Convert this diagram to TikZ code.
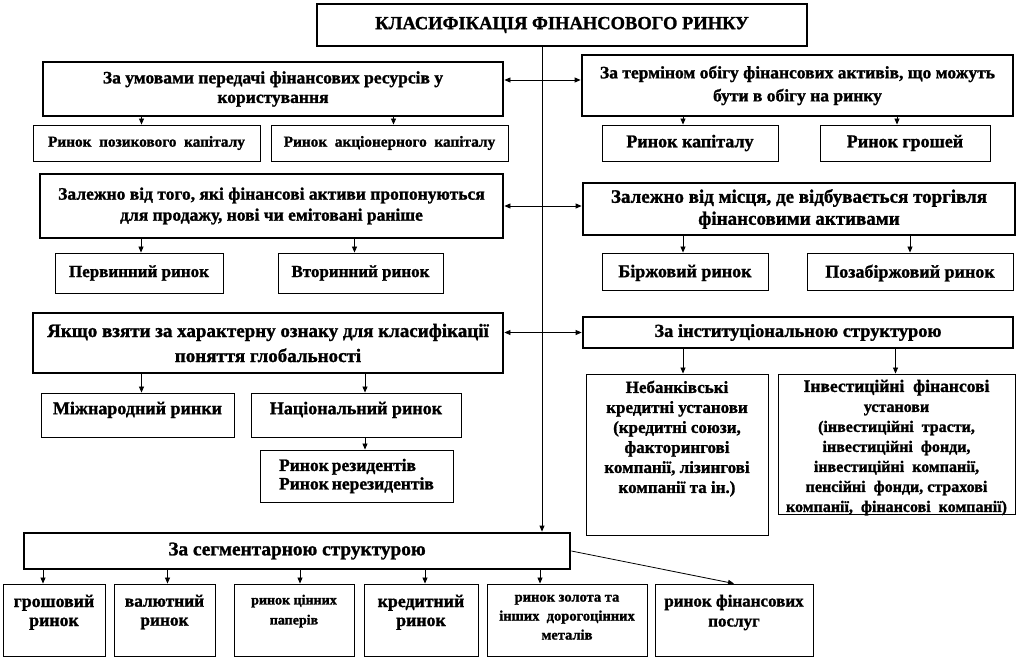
\documentclass[tikz,border=0pt]{standalone}
\usepackage{fontspec}
\setmainfont{Liberation Serif}[BoldFeatures={FakeBold=1.3}]
\usetikzlibrary{arrows.meta}
\newcommand\fsz[2]{\bfseries\fontsize{#1}{#2}\selectfont}
\begin{document}
\begin{tikzpicture}[x=1pt,y=-1pt,
  thickbox/.style={draw,line width=2.8pt,fill=white,align=center,inner sep=0pt,font=\fsz{17.5}{21}},
  thinbox/.style={draw,line width=0.9pt,fill=white,align=center,inner sep=0pt,font=\fsz{18}{20}},
  toplab/.style={anchor=north,inner sep=0pt,align=center,font=\fsz{18}{20}},
  arr/.style={line width=0.8pt,-{Triangle[length=6pt,width=5pt]}},
  darr/.style={line width=0.8pt,{Triangle[length=6pt,width=5pt]}-{Triangle[length=6pt,width=5pt]}}]
\useasboundingbox (0,0) rectangle (1027,658);
% title
\node[thickbox,minimum width=490pt,minimum height=42pt,font=\fsz{18.5}{20}] (title) at (562,25) {КЛАСИФІКАЦІЯ ФІНАНСОВОГО РИНКУ};
% row 1
\node[thickbox,minimum width=460pt,minimum height=54pt,font=\fsz{17.5}{19.5}] (h1) at (273,89) {За умовами передачі фінансових ресурсів у\\користування};
\node[thickbox,minimum width=431pt,minimum height=61pt,font=\fsz{17.5}{23}] (r1) at (797.5,85.5) {За терміном обігу фінансових активів, що можуть\\бути в обігу на ринку};
\node[thinbox,minimum width=227pt,minimum height=36pt,font=\fsz{15.3}{18}] (s1a) at (146.5,143) {Ринок\ \ позикового\ \ капіталу};
\node[thinbox,minimum width=237pt,minimum height=36pt,font=\fsz{15.3}{18}] (s1b) at (389.5,143) {Ринок\ \ акціонерного\ \ капіталу};
\node[thinbox,minimum width=176pt,minimum height=36pt] (s1c) at (690,143) {Ринок капіталу};
\node[thinbox,minimum width=170pt,minimum height=36pt] (s1d) at (905,143) {Ринок грошей};
% row 2
\node[thickbox,minimum width=463pt,minimum height=64pt,font=\fsz{17.5}{21}] (h2) at (271.5,206) {Залежно від того, які фінансові активи пропонуються\\для продажу,\ нові чи емітовані раніше};
\node[thickbox,minimum width=432pt,minimum height=52pt,font=\fsz{19}{22}] (r2) at (799,209) {Залежно від місця, де відбувається торгівля\\фінансовими активами};
\node[thinbox,minimum width=168pt,minimum height=40pt,font=\fsz{17}{20}] (s2a) at (139,273) {Первинний ринок};
\node[thinbox,minimum width=165pt,minimum height=40pt,font=\fsz{17}{20}] (s2b) at (360.5,273) {Вторинний ринок};
\node[thinbox,minimum width=166pt,minimum height=37pt,label={[toplab,yshift=-12pt]north:Біржовий ринок}] (s2c) at (685,271.5) {};
\node[thinbox,minimum width=206pt,minimum height=37pt,label={[toplab,yshift=-12pt]north:Позабіржовий ринок}] (s2d) at (910,271.5) {};
% row 3
\node[thickbox,minimum width=470pt,minimum height=60pt,font=\fsz{19}{25}] (h3) at (268,343) {Якщо взяти за характерну ознаку для класифікації\\поняття глобальності};
\node[thickbox,minimum width=430pt,minimum height=31pt,font=\fsz{18.4}{20}] (r3) at (798,332.5) {За інституціональною структурою};
\node[thinbox,minimum width=193pt,minimum height=44pt,label={[toplab,yshift=-9pt]north:Міжнародний ринки}] (s3a) at (137.5,415) {};
\node[thinbox,minimum width=210pt,minimum height=44pt,label={[toplab,yshift=-9pt]north:Національний ринок}] (s3b) at (356,415) {};
\node[thinbox,minimum width=193pt,minimum height=52pt,align=left,font=\fsz{17.5}{18.5}] (s3c) at (356.5,476) {Ринок\hspace{3pt}резидентів\\Ринок\hspace{3pt}нерезидентів};
\node[thinbox,minimum width=182pt,minimum height=161pt,label={[toplab,yshift=-7pt,font=\fsz{17}{20}]north:{Небанківські\\кредитні установи\\(кредитні союзи,\\факторингові\\компанії, лізингові\\компанії та ін.)}}] (s3d) at (677,454.5) {};
\node[thinbox,minimum width=237pt,minimum height=140pt,label={[toplab,yshift=-6pt,font=\fsz{16}{20}]north:{\fsz{17.5}{20}Інвестиційні\ \ фінансові\\установи\\(інвестиційні\ \ трасти,\\інвестиційні\ \ фонди,\\інвестиційні\ \ компанії,\\пенсійні\ \ фонди,\ страхові\\компанії,\ \ фінансові\ \ компанії)}}] (s3e) at (896.5,444) {};
% segment
\node[thickbox,minimum width=546pt,minimum height=36pt,font=\fsz{19.3}{21}] (seg) at (297,551) {За сегментарною структурою};
\node[thinbox,minimum width=102pt,minimum height=72pt,label={[toplab,yshift=-11pt,font=\fsz{17.8}{19}]north:{грошовий\\ринок}}] (b1) at (54,620) {};
\node[thinbox,minimum width=101pt,minimum height=72pt,label={[toplab,yshift=-11pt,font=\fsz{17.3}{19}]north:{валютний\\ринок}}] (b2) at (164.5,620) {};
\node[thinbox,minimum width=120pt,minimum height=72pt,label={[toplab,yshift=-11pt,font=\fsz{14}{20}]north:{ринок цінних\\паперів}}] (b3) at (294,620) {};
\node[thinbox,minimum width=114pt,minimum height=72pt,label={[toplab,yshift=-11pt,font=\fsz{17.8}{19}]north:{кредитний\\ринок}}] (b4) at (421,620) {};
\node[thinbox,minimum width=160pt,minimum height=72pt,label={[toplab,yshift=-11pt,font=\fsz{14.5}{19}]north:{ринок золота та\\інших\ \ дорогоцінних\\металів}}] (b5) at (567,620) {};
\node[thinbox,minimum width=158pt,minimum height=72pt,label={[toplab,yshift=-11pt,font=\fsz{17}{20}]north:{ринок фінансових\\послуг}}] (b6) at (734,620) {};
% connectors
\draw[arr] ([xshift=-20pt]title.south) -- ([xshift=-20pt]title.south |- seg.north);
\draw[darr] ([yshift=9pt]h1.east) -- ([yshift=9pt]h1.east -| r1.west);
\draw[darr] (h2.east) -- (h2.east -| r2.west);
\draw[darr] (r3.west -| h3.east) -- (r3.west);
\draw[arr] ([xshift=-5pt]s1a.north |- h1.south) -- ([xshift=-5pt]s1a.north);
\draw[arr] ([xshift=4pt]s1b.north |- h1.south) -- ([xshift=4pt]s1b.north);
\draw[arr] ([xshift=-7pt]s1c.north |- r1.south) -- ([xshift=-7pt]s1c.north);
\draw[arr] ([xshift=-8pt]s1d.north |- r1.south) -- ([xshift=-8pt]s1d.north);
\draw[arr] ([xshift=2pt]s2a.north |- h2.south) -- ([xshift=2pt]s2a.north);
\draw[arr] ([xshift=-6pt]s2b.north |- h2.south) -- ([xshift=-6pt]s2b.north);
\draw[arr] ([xshift=-2pt]s2c.north |- r2.south) -- ([xshift=-2pt]s2c.north);
\draw[arr] (s2d.north |- r2.south) -- (s2d.north);
\draw[arr] ([xshift=4pt]s3a.north |- h3.south) -- ([xshift=4pt]s3a.north);
\draw[arr] ([xshift=9pt]s3b.north |- h3.south) -- ([xshift=9pt]s3b.north);
\draw[arr] ([xshift=9pt]s3b.south) -- ([xshift=9pt]s3b.south |- s3c.north);
\draw[arr] ([xshift=6pt]s3d.north |- r3.south) -- ([xshift=6pt]s3d.north);
\draw[arr] ([xshift=-1pt]s3e.north |- r3.south) -- ([xshift=-1pt]s3e.north);
\draw[arr] ([xshift=-11pt]b1.north |- seg.south) -- ([xshift=-11pt]b1.north);
\draw[arr] ([xshift=3pt]b2.north |- seg.south) -- ([xshift=3pt]b2.north);
\draw[arr] ([xshift=6pt]b3.north |- seg.south) -- ([xshift=6pt]b3.north);
\draw[arr] ([xshift=4pt]b4.north |- seg.south) -- ([xshift=4pt]b4.north);
\draw[arr] ([xshift=-27pt]b5.north |- seg.south) -- ([xshift=-27pt]b5.north);
\draw[arr] (seg.east) -- (b6.north);
\end{tikzpicture}
\end{document}
